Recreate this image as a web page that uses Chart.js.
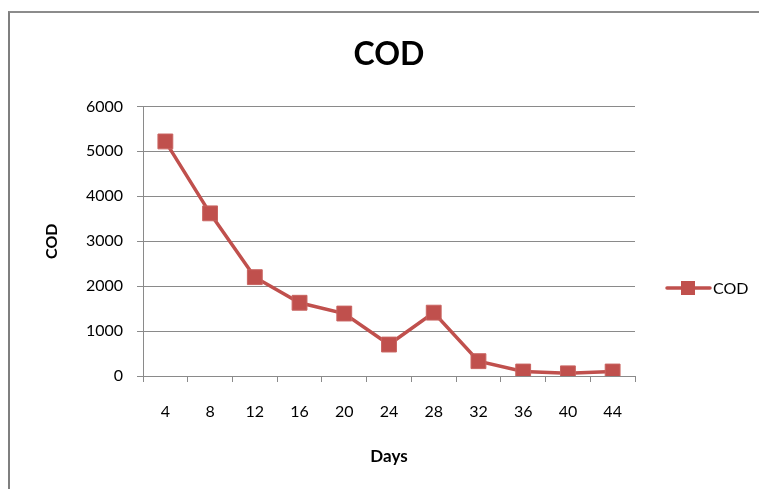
<!DOCTYPE html>
<html>
<head>
<meta charset="utf-8">
<title>COD</title>
<script src="https://cdn.jsdelivr.net/npm/chart.js@4.4.1/dist/chart.umd.min.js"></script>
<style>
    html, body { margin: 0; padding: 0; background: #fff; }
    #wrap { position: relative; width: 759px; height: 489px; overflow: hidden; }
    #frame {
        position: absolute; left: 8px; top: 11px; width: 800px; height: 600px;
        border-left: 2px solid #7f7f7f; border-top: 2px solid #8c8c8c;
    }
    #cod-chart { position: absolute; left: 0; top: 0; }
</style>
</head>
<body>
<div id="wrap">
    <div id="frame"></div>
    <canvas id="cod-chart" width="759" height="489"></canvas>
</div>
<script>
// Chart data
const days = ['4', '8', '12', '16', '20', '24', '28', '32', '36', '40', '44'];
const codValues = [5220, 3620, 2200, 1630, 1390, 700, 1410, 330, 100, 60, 100];
const yTicks = [0, 1000, 2000, 3000, 4000, 5000, 6000];

const SERIES_COLOR = '#C0504D';
const GRID_COLOR = '#8a8a8a';
const FONT = "Lato, 'Open Sans', 'DejaVu Sans', sans-serif";

// Excel-style legend: short line with a square marker, then the label
const lineLegend = {
    id: 'lineLegend',
    afterDraw(chart) {
        const ds = chart.data.datasets[0];
        const area = chart.chartArea;
        const ctx = chart.ctx;
        const x = area.right + 32;
        const y = area.bottom - 88;

        ctx.save();
        ctx.strokeStyle = ds.borderColor;
        ctx.lineWidth = 3.5;
        ctx.lineCap = 'round';
        ctx.beginPath();
        ctx.moveTo(x, y);
        ctx.lineTo(x + 43, y);
        ctx.stroke();
        ctx.fillStyle = ds.borderColor;
        ctx.fillRect(x + 14, y - 7, 14, 14);
        ctx.fillStyle = '#000';
        ctx.font = '16px ' + FONT;
        ctx.textBaseline = 'middle';
        ctx.fillText(ds.label, x + 46, y + 1);
        ctx.restore();
    }
};

const ctx = document.getElementById('cod-chart').getContext('2d');
new Chart(ctx, {
    type: 'line',
    data: {
        labels: days,
        datasets: [{
            label: 'COD',
            data: codValues,
            borderColor: SERIES_COLOR,
            backgroundColor: SERIES_COLOR,
            borderWidth: 3.5,
            pointStyle: 'rect',
            pointRadius: 10.5,
            pointBackgroundColor: SERIES_COLOR,
            pointBorderColor: '#c96461',
            pointBorderWidth: 1,
            tension: 0
        }]
    },
    options: {
        responsive: false,
        animation: false,
        layout: {
            padding: { top: 0, right: 124, bottom: 0, left: 0 }
        },
        plugins: {
            legend: { display: false },
            tooltip: { enabled: false },
            title: {
                display: true,
                text: 'COD',
                fullSize: false,
                color: '#000',
                font: { family: FONT, size: 32, weight: 'bold', lineHeight: 1.2 },
                padding: { top: 35, bottom: 33 }
            }
        },
        scales: {
            x: {
                type: 'category',
                offset: true,
                grid: {
                    offset: true,
                    drawOnChartArea: false,
                    drawTicks: true,
                    tickLength: 6,
                    color: GRID_COLOR
                },
                border: { color: GRID_COLOR, width: 1 },
                ticks: {
                    color: '#000',
                    padding: 20,
                    maxRotation: 0,
                    font: { family: FONT, size: 16 }
                },
                title: {
                    display: true,
                    text: 'Days',
                    color: '#000',
                    font: { family: FONT, size: 17, weight: 'bold', lineHeight: 1.2 },
                    padding: { top: 0, bottom: 22 }
                },
                afterFit(scale) { scale.height = 113; }
            },
            y: {
                min: yTicks[0],
                max: yTicks[yTicks.length - 1],
                afterBuildTicks(scale) {
                    scale.ticks = yTicks.map(v => ({ value: v }));
                },
                grid: {
                    color: GRID_COLOR,
                    lineWidth: 1,
                    drawTicks: true,
                    tickLength: 6
                },
                border: { color: GRID_COLOR, width: 1 },
                ticks: {
                    color: '#000',
                    padding: 14,
                    font: { family: FONT, size: 16 },
                    callback: value => String(value)
                },
                title: {
                    display: true,
                    text: 'COD',
                    color: '#000',
                    font: { family: FONT, size: 16, weight: 'bold', lineHeight: 1.2 },
                    padding: { top: 42, bottom: 0 }
                },
                afterFit(scale) { scale.width = 143; }
            }
        }
    },
    plugins: [lineLegend]
});
</script>
</body>
</html>
